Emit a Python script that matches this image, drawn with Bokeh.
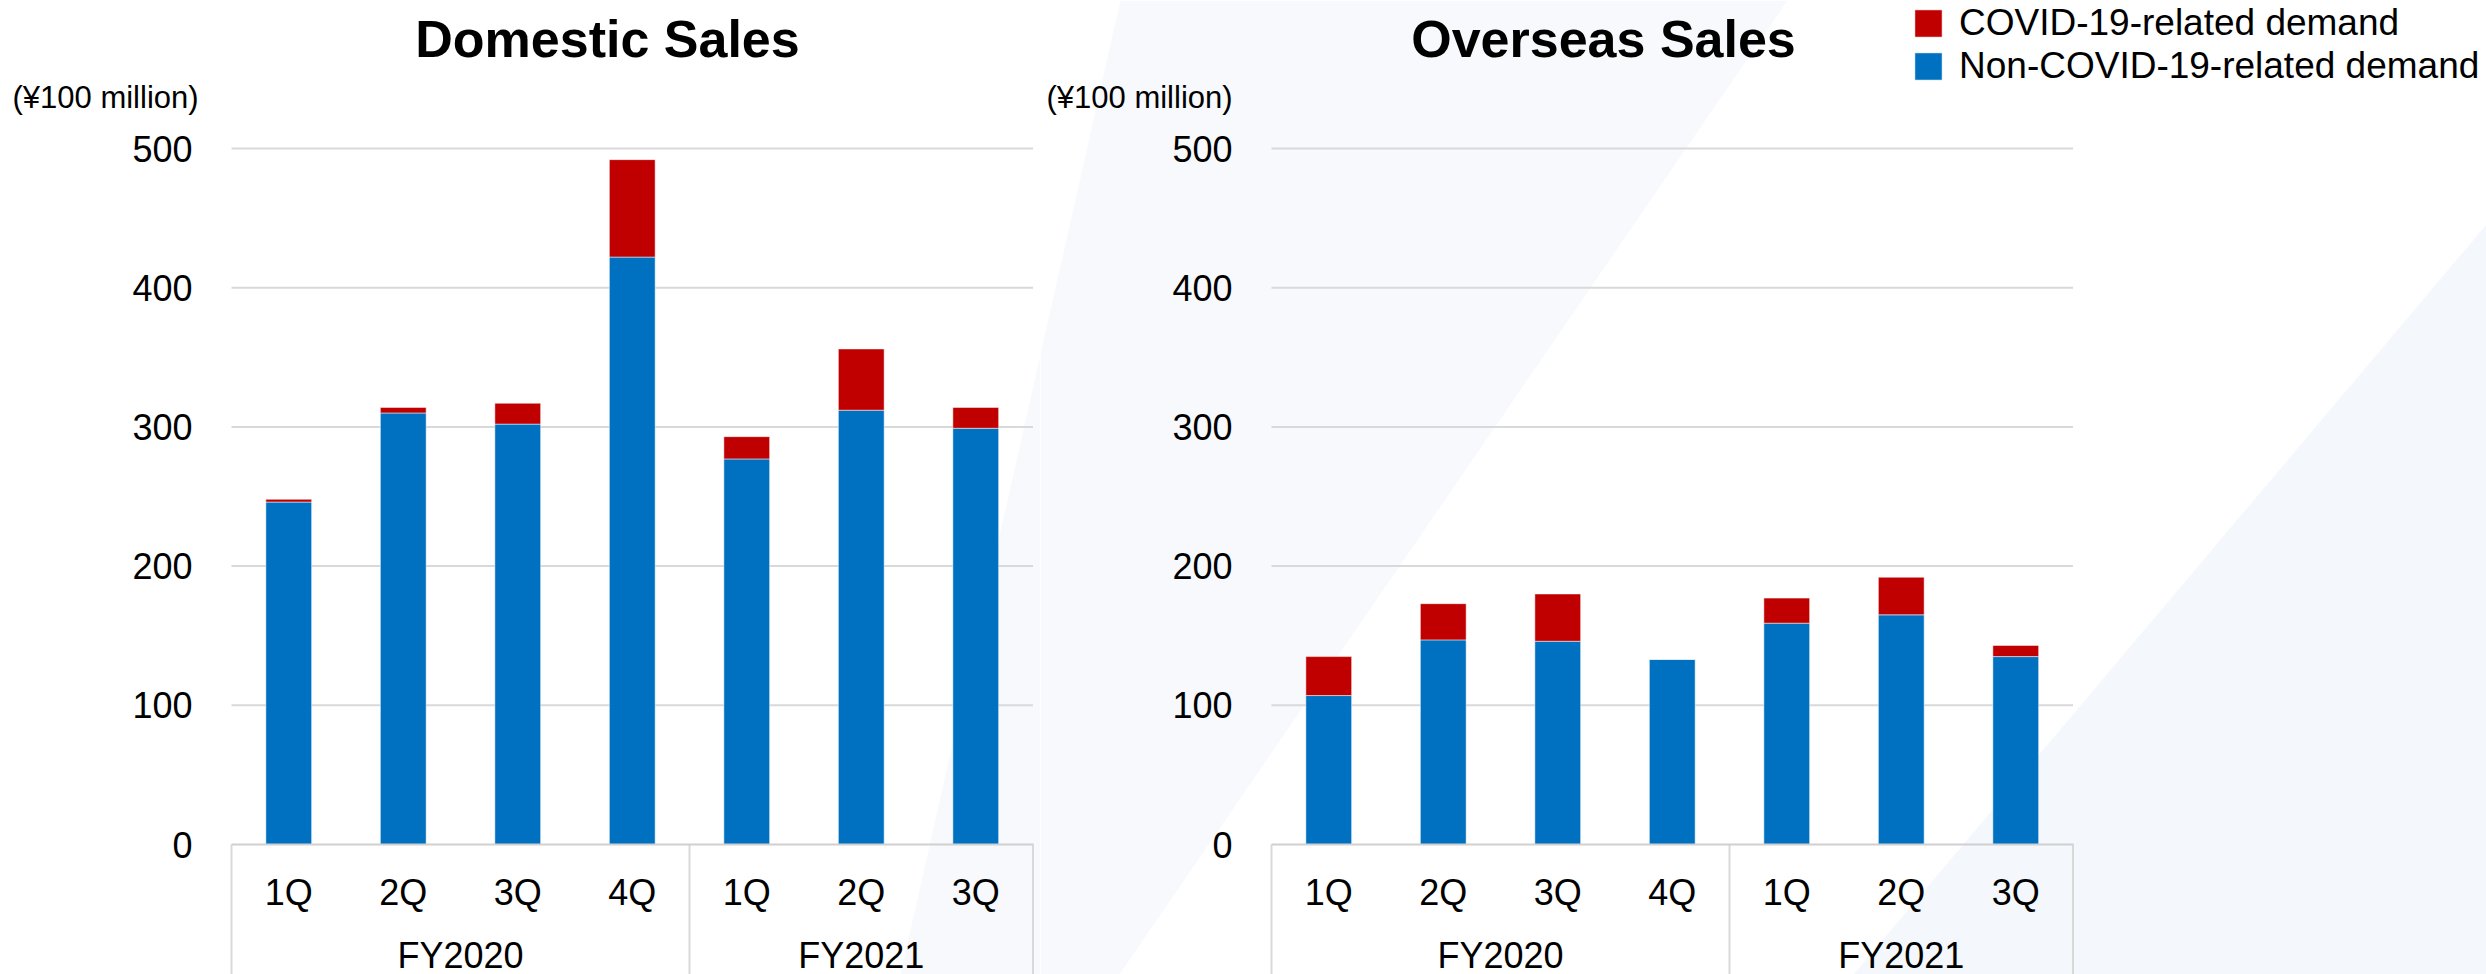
from bokeh.plotting import figure
from bokeh.models import (Range1d, FixedTicker, ColumnDataSource, Label, Legend,
                          LegendItem, LinearAxis, PolyAnnotation)
from bokeh.layouts import row
from bokeh.embed import file_html
from bokeh.resources import INLINE

# ---------------- data ----------------
fiscal_years = ["FY2020", "FY2020", "FY2020", "FY2020", "FY2021", "FY2021", "FY2021"]
quarters = ["1Q", "2Q", "3Q", "4Q", "1Q", "2Q", "3Q"]

domestic_non_covid = [246, 310, 302, 422, 277, 312, 299]
domestic_covid = [2, 4, 15, 70, 16, 44, 15]

overseas_non_covid = [107, 147, 146, 133, 159, 165, 135]
overseas_covid = [28, 26, 34, 0, 18, 27, 8]

series_labels = ["COVID-19-related demand", "Non-COVID-19-related demand"]
y_ticks = [0, 100, 200, 300, 400, 500]
unit_label = "(¥100 million)"
chart_titles = ["Domestic Sales", "Overseas Sales"]

# ---------------- style / layout ----------------
FONT = "Liberation Sans"
RED = "#C00000"
BLUE = "#0070C0"
GRID = "#d9d9d9"
AXIS = "#d0d0d0"
TINT = "#e3ebf7"

H = 974                 # canvas height
AXIS_Y = 844            # pixel row of value 0 (from top)
TOP_Y = 148             # pixel row of value 500
PLOT_LEFT = 231         # pixel column of the first category edge in each canvas
PLOT_W = 801.5          # pixel width of the category area
N = len(quarters)
UX = PLOT_W / N
UY = (AXIS_Y - TOP_Y) / float(y_ticks[-1])

# derived category geometry (from the data lists)
centers = [i + 0.5 for i in range(N)]
bounds = [0] + [i for i in range(1, N) if fiscal_years[i] != fiscal_years[i - 1]] + [N]
group_names = [fiscal_years[b] for b in bounds[:-1]]
group_centers = [(a + b) / 2.0 for a, b in zip(bounds[:-1], bounds[1:])]


def tint(p, xs, ys, alpha):
    # decorative pale background band (screen pixels, y measured from top)
    p.add_layout(PolyAnnotation(xs=xs, ys=[H - y for y in ys],
                                xs_units="screen", ys_units="screen",
                                fill_color=TINT, fill_alpha=alpha,
                                line_color=None, level="underlay"))


def make_chart(title, non_covid, covid, width, title_x, unit_x):
    x_range = Range1d(-PLOT_LEFT / UX, (width - PLOT_LEFT) / UX)
    y_range = Range1d(-(H - AXIS_Y) / UY, y_ticks[-1] + TOP_Y / UY)
    p = figure(x_range=x_range, y_range=y_range, width=width, height=H,
               min_border=0, min_border_left=0, min_border_right=0,
               min_border_top=0, min_border_bottom=0,
               output_backend="svg", toolbar_location=None,
               x_axis_location=None, y_axis_location=None,
               background_fill_color="white", border_fill_color="white",
               outline_line_color=None)
    p.title.visible = False

    # horizontal grid lines, limited to the category area (behind the bars)
    p.segment(x0=0, y0="y", x1=N, y1="y",
              source=ColumnDataSource(dict(y=y_ticks[1:])),
              line_color=GRID, line_width=2)

    # group separators below the category axis
    p.segment(x0="x", y0=0, x1="x", y1=y_range.start,
              source=ColumnDataSource(dict(x=bounds)),
              line_color=GRID, line_width=2)

    src = ColumnDataSource(dict(x=centers, non_covid=non_covid, covid=covid))
    rs = p.vbar_stack(["non_covid", "covid"], x="x", width=0.4, source=src,
                      color=[BLUE, RED], line_color="white", line_width=1,
                      line_alpha=0.5)

    # quarter axis
    qa = LinearAxis(fixed_location=0, bounds=(0, N),
                    ticker=FixedTicker(ticks=centers),
                    major_label_overrides={c: q for c, q in zip(centers, quarters)})
    qa.axis_line_color = AXIS
    qa.axis_line_width = 2
    qa.major_tick_line_color = None
    qa.minor_tick_line_color = None
    qa.major_label_standoff = 21
    qa.major_label_text_font = FONT
    qa.major_label_text_font_size = "36px"
    qa.major_label_text_color = "black"
    p.add_layout(qa, "below")

    # fiscal-year axis
    fa = LinearAxis(fixed_location=0, bounds=(0, N),
                    ticker=FixedTicker(ticks=group_centers),
                    major_label_overrides={c: g for c, g in zip(group_centers, group_names)})
    fa.axis_line_color = None
    fa.major_tick_line_color = None
    fa.minor_tick_line_color = None
    fa.major_label_standoff = 84
    fa.major_label_text_font = FONT
    fa.major_label_text_font_size = "36px"
    fa.major_label_text_color = "black"
    p.add_layout(fa, "below")

    # value axis
    ya = LinearAxis(fixed_location=0, ticker=FixedTicker(ticks=y_ticks))
    ya.axis_line_color = None
    ya.major_tick_line_color = None
    ya.minor_tick_line_color = None
    ya.major_label_standoff = 33
    ya.major_label_text_font = FONT
    ya.major_label_text_font_size = "36px"
    ya.major_label_text_color = "black"
    p.add_layout(ya, "left")

    p.xgrid.visible = False
    p.ygrid.visible = False

    p.add_layout(Label(x=title_x, y=H - 38, x_units="screen", y_units="screen",
                       text=title, text_font=FONT, text_font_size="52px",
                       text_font_style="bold", text_align="center",
                       text_baseline="alphabetic", text_color="black"))
    p.add_layout(Label(x=unit_x, y=H - 97, x_units="screen", y_units="screen",
                       text=unit_label, text_font=FONT, text_font_size="31px",
                       text_align="left", text_baseline="alphabetic",
                       text_color="black"))
    return p, rs


p1, rs1 = make_chart(chart_titles[0], domestic_non_covid, domestic_covid,
                     1040, 607, 12)
p2, rs2 = make_chart(chart_titles[1], overseas_non_covid, overseas_covid,
                     1446, 563, 6)

# soft pale diagonal background bands of the slide
tint(p1, [1040, 1040, 900], [354, 974, 974], 0.30)
tint(p2, [80, 747, 79, 0, 0], [0, 0, 974, 974, 354], 0.30)
tint(p2, [1446, 1446, 813], [224, 974, 974], 0.40)

legend = Legend(items=[LegendItem(label=series_labels[0], renderers=[rs2[1]]),
                       LegendItem(label=series_labels[1], renderers=[rs2[0]])],
                location=(871, 887), orientation="vertical",
                glyph_width=34, glyph_height=34, label_standoff=14,
                spacing=1, padding=0, margin=0, label_height=27,
                border_line_color=None, background_fill_alpha=0,
                label_text_font=FONT, label_text_font_size="37px",
                label_text_color="black")
p2.add_layout(legend)

layout = row(p1, p2)
open("out.html", "w").write(file_html(layout, INLINE))
